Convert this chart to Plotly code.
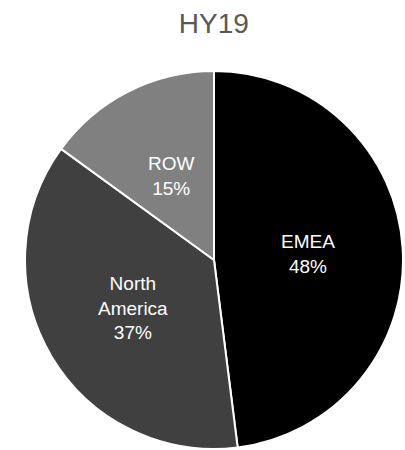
import math
import plotly.graph_objects as go

labels = ["EMEA", "North<br>America", "ROW"]
values = [48, 37, 15]
colors = ["#000000", "#404040", "#808080"]
title_text = "HY19"

FONT = "Liberation Sans, Arial, sans-serif"

fig = go.Figure(go.Pie(
    labels=labels,
    values=values,
    sort=False,
    direction="clockwise",
    rotation=0,
    marker=dict(colors=colors, line=dict(color="#ffffff", width=2)),
    textinfo="none",
    hoverinfo="label+percent",
    showlegend=False,
))

# Data labels placed along each slice's bisector at half the radius (Office-style)
total = sum(values)
cum = 0
for lab, v in zip(labels, values):
    mid = (cum + v / 2) / total * 2 * math.pi
    cum += v
    x = 0.5 + 0.25 * math.sin(mid)
    y = 0.5 + 0.25 * math.cos(mid)
    fig.add_annotation(
        x=x, y=y, xref="paper", yref="paper",
        text=f"{lab}<br>{round(v / total * 100)}%",
        showarrow=False, xanchor="center", yanchor="middle", align="center",
        font=dict(family=FONT, size=19, color="#ffffff"),
    )

fig.update_layout(
    width=405, height=450,
    margin=dict(l=25, r=2, t=71, b=1),
    paper_bgcolor="#ffffff",
    plot_bgcolor="#ffffff",
    title=dict(text=title_text, x=0.528, xanchor="center", y=1 - 33/450, yanchor="bottom",
               font=dict(family=FONT, size=28, color="#595959")),
)

fig.write_html("out.html")
